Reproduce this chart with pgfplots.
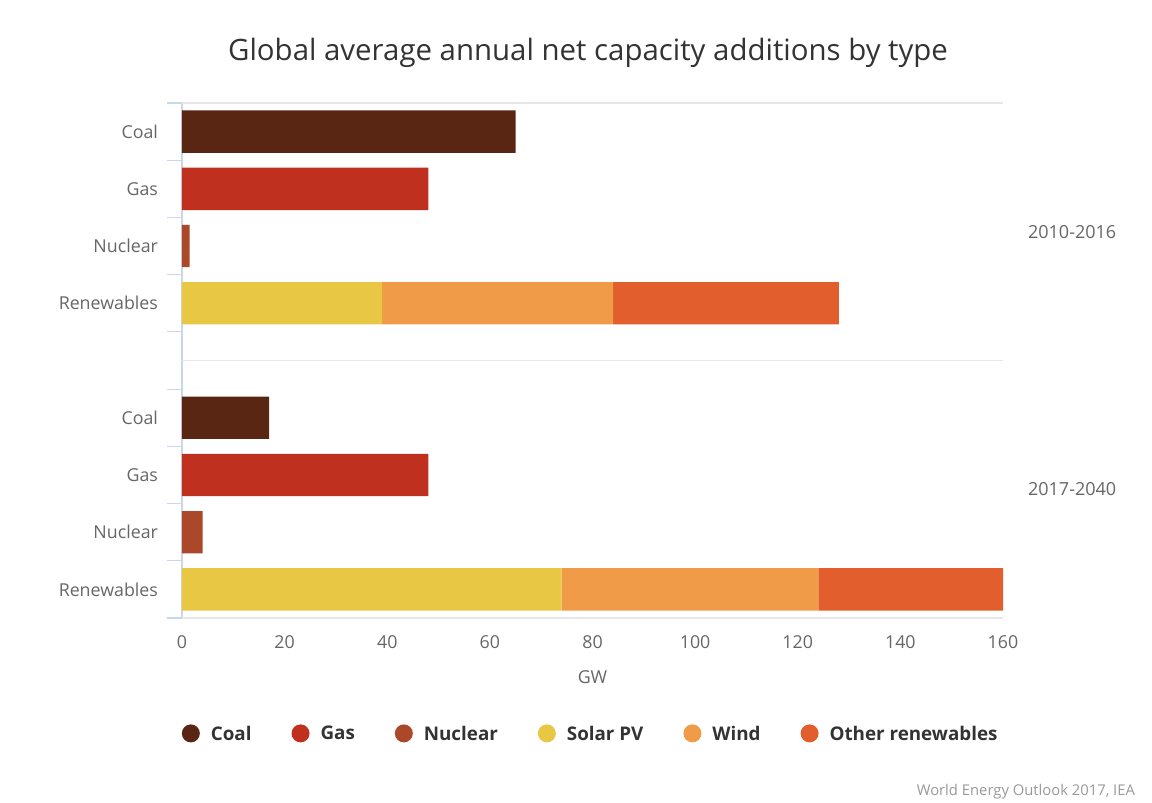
\documentclass[border=0pt]{standalone}
\usepackage{pgfplots}
\pgfplotsset{compat=1.18}
\usepackage{fontspec}
\setmainfont{Open Sans}

\definecolor{coal}{HTML}{5A2614}
\definecolor{gas}{HTML}{C0301F}
\definecolor{nuclear}{HTML}{AA4829}
\definecolor{solar}{HTML}{E8C745}
\definecolor{wind}{HTML}{EF9B48}
\definecolor{otherren}{HTML}{E35E2D}
\definecolor{titlegray}{HTML}{333333}
\definecolor{labelgray}{HTML}{666666}
\definecolor{axisblue}{HTML}{CCD6EB}
\definecolor{gridgray}{HTML}{E6E6E6}
\definecolor{sourcegray}{HTML}{999999}

\pgfplotsset{
  dotlegend/.style={legend image code/.code={%
    \fill[##1, draw=none] (0pt,0.05em) circle (4.5pt);
    \path (-4.5pt,0.05em) (8pt,0.05em);}},
}

\begin{document}
\begin{tikzpicture}[x=1pt,y=1pt]
\useasboundingbox (0,0) rectangle (576,401.5);
\node[font=\fontsize{14.7}{17}\selectfont, text=titlegray] at (294,375)
  {Global average annual net capacity additions by type};
\begin{axis}[
  at={(91pt,92.5pt)}, anchor=south west,
  scale only axis, width=410.5pt, height=257.5pt,
  xbar stacked, bar width=0.74,
  y dir=reverse, ymin=-0.5, ymax=8.5, xmin=0, xmax=160,
  xtick={0,20,...,160},
  ytick={0,1,2,3,5,6,7,8},
  yticklabels={Coal,Gas,Nuclear,Renewables,Coal,Gas,Nuclear,Renewables},
  tick pos=left,
  major tick length=0pt,
  extra y ticks={-0.5,0.5,1.5,2.5,3.5,4.5,5.5,6.5,7.5,8.5},
  extra y tick labels={},
  extra y tick style={major tick length=7.5pt, tick align=outside,
    tick style={axisblue, line width=0.6pt}},
  axis line style={draw=none},
  /pgf/number format/assume math mode=true,
  ticklabel style={font=\fontsize{8.9}{10}\selectfont, text=labelgray},
  yticklabel style={xshift=-8.5pt},
  xticklabel style={yshift=-5.5pt},
  xlabel={GW},
  xlabel style={font=\fontsize{8.9}{10}\selectfont, text=labelgray,
    at={(axis description cs:0.5,0)}, anchor=center, yshift=-29.5pt},
  legend columns=6,
  legend style={draw=none, fill=none, at={(0.499,-0.226)}, anchor=center,
    font=\fontsize{9.4}{11}\selectfont\bfseries, text=titlegray,
    /tikz/every even column/.append style={column sep=18pt}},
  clip=false,
]
\addplot[fill=coal, draw=none, dotlegend] coordinates
  {(65,0) (0,1) (0,2) (0,3) (17,5) (0,6) (0,7) (0,8)};
\addplot[fill=gas, draw=none, dotlegend] coordinates
  {(0,0) (48,1) (0,2) (0,3) (0,5) (48,6) (0,7) (0,8)};
\addplot[fill=nuclear, draw=none, dotlegend] coordinates
  {(0,0) (0,1) (1.5,2) (0,3) (0,5) (0,6) (4,7) (0,8)};
\addplot[fill=solar, draw=none, dotlegend] coordinates
  {(0,0) (0,1) (0,2) (39,3) (0,5) (0,6) (0,7) (74,8)};
\addplot[fill=wind, draw=none, dotlegend] coordinates
  {(0,0) (0,1) (0,2) (45,3) (0,5) (0,6) (0,7) (50,8)};
\addplot[fill=otherren, draw=none, dotlegend] coordinates
  {(0,0) (0,1) (0,2) (44,3) (0,5) (0,6) (0,7) (36,8)};
\legend{Coal,Gas,Nuclear,Solar PV,Wind,Other renewables}

% frame lines and period labels
\draw[gridgray, line width=0.7pt] (axis cs:0,-0.5) -- (axis cs:160,-0.5);
\draw[gridgray, line width=0.7pt] (axis cs:0,4) -- (axis cs:160,4);
\draw[gridgray, line width=0.7pt] (axis cs:0,8.5) -- (axis cs:160,8.5);
\draw[axisblue, line width=0.6pt] (axis cs:0,-0.5) -- (axis cs:0,8.5);
\node[anchor=west, font=\fontsize{9}{10}\selectfont, text=labelgray, xshift=9pt]
  at (axis cs:160,1.75) {2010-2016};
\node[anchor=west, font=\fontsize{9}{10}\selectfont, text=labelgray, xshift=9pt]
  at (axis cs:160,6.25) {2017-2040};
\end{axis}
\node[anchor=east, font=\fontsize{7.4}{8}\selectfont, text=sourcegray] at (571,5.5)
  {World Energy Outlook 2017, IEA};
\end{tikzpicture}
\end{document}
